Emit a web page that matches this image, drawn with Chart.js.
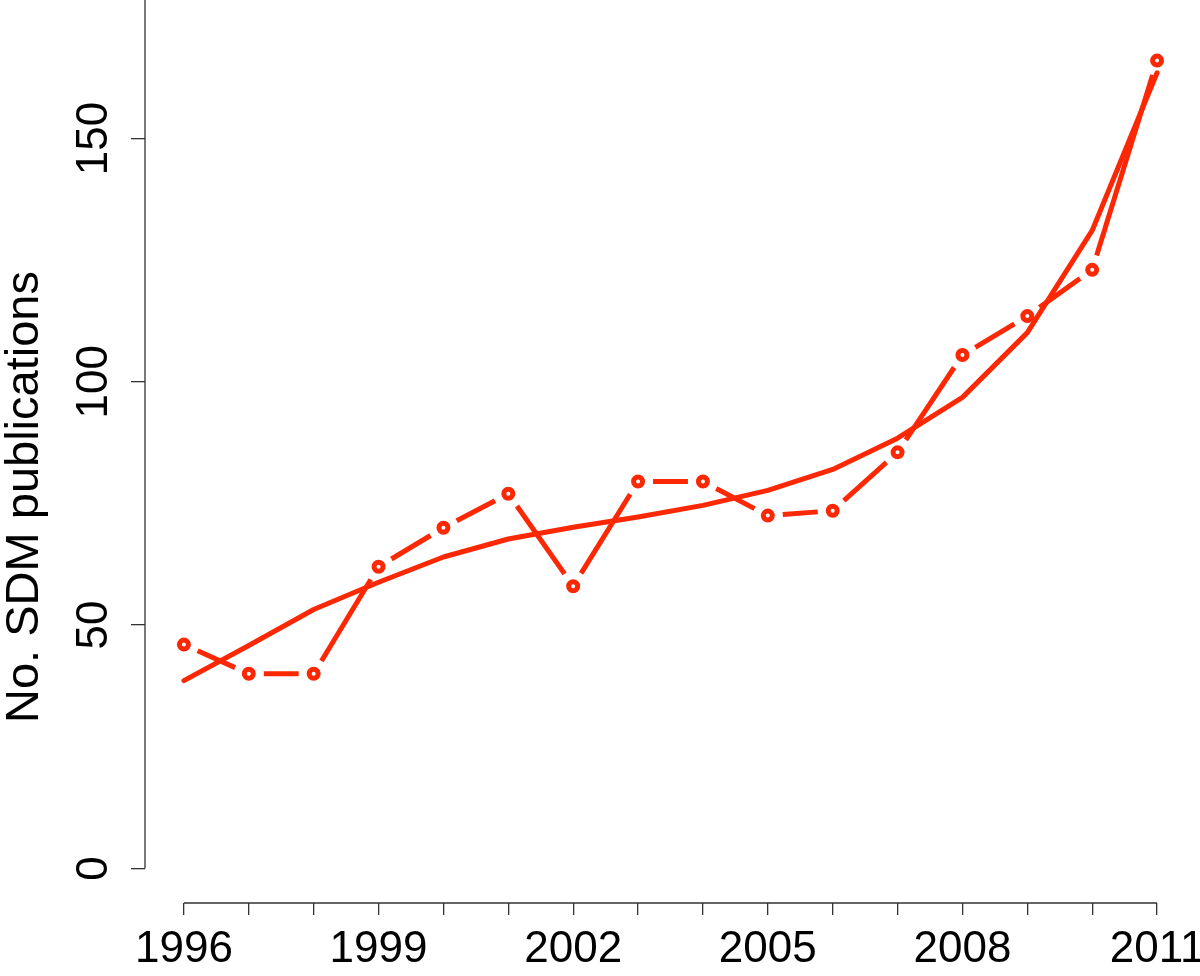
<!DOCTYPE html>
<html>
<head>
<meta charset="utf-8">
<script src="https://cdn.jsdelivr.net/npm/chart.js@4/dist/chart.umd.min.js"></script>
<style>
  html, body { margin: 0; padding: 0; background: #fff; }
  #wrap { width: 1200px; height: 976px; }
</style>
</head>
<body>
<div id="wrap"><canvas id="pubChart" width="1200" height="976"></canvas></div>
<script>
// data
const years = [1996, 1997, 1998, 1999, 2000, 2001, 2002, 2003, 2004, 2005, 2006, 2007, 2008, 2009, 2010, 2011];
const publications = [46, 40, 40, 62, 70, 77, 58, 79.5, 79.5, 72.5, 73.5, 85.5, 105.5, 113.5, 123, 166];
const fitted = [38.6, 45.8, 53.2, 58.8, 64.0, 67.7, 70.1, 72.2, 74.6, 77.7, 82.0, 88.4, 96.8, 110.1, 131.1, 163.5];
const yTicks = [0, 50, 100, 150];
const xLabelYears = [1996, 1999, 2002, 2005, 2008, 2011];
const yTitle = "No. SDM publications";

const red = "rgb(252, 40, 4)";
const font = "44px 'Liberation Sans', Arial, sans-serif";
const titleFont = "47px 'Liberation Sans', Arial, sans-serif";
const gap = 15; // space left around each point, like R type="b"

// axis lines + text in R style
const rAxes = {
  id: "rAxes",
  afterDraw(chart) {
    const { ctx, scales: { x, y } } = chart;
    const axisY = 903;
    const axisX = 145;
    ctx.save();
    ctx.strokeStyle = "#333";
    ctx.lineWidth = 1.3;
    ctx.beginPath();
    ctx.moveTo(x.getPixelForValue(years[0]), axisY);
    ctx.lineTo(x.getPixelForValue(years[years.length - 1]), axisY);
    ctx.moveTo(axisX, y.getPixelForValue(0));
    ctx.lineTo(axisX, 0);
    ctx.stroke();

    ctx.fillStyle = "#000";
    ctx.font = font;
    ctx.textAlign = "center";
    ctx.textBaseline = "alphabetic";
    xLabelYears.forEach(yr => {
      ctx.fillText(String(yr), x.getPixelForValue(yr), 962);
    });

    yTicks.forEach(v => {
      ctx.save();
      ctx.translate(107, y.getPixelForValue(v));
      ctx.rotate(-Math.PI / 2);
      ctx.fillText(String(v), 0, 0);
      ctx.restore();
    });

    ctx.save();
    ctx.font = titleFont;
    ctx.translate(38, 497);
    ctx.rotate(-Math.PI / 2);
    ctx.fillText(yTitle, 0, 0);
    ctx.restore();
    ctx.restore();
  }
};

function segLen(c) {
  return Math.hypot(c.p1.x - c.p0.x, c.p1.y - c.p0.y);
}

new Chart(document.getElementById("pubChart"), {
  type: "line",
  data: {
    datasets: [
      {
        label: "fitted",
        data: years.map((yr, i) => ({ x: yr, y: fitted[i] })),
        borderColor: red,
        borderWidth: 5,
        borderCapStyle: "round",
        borderJoinStyle: "round",
        pointRadius: 0,
        tension: 0,
        order: 2
      },
      {
        label: "publications",
        data: years.map((yr, i) => ({ x: yr, y: publications[i] })),
        borderColor: red,
        borderWidth: 5,
        borderCapStyle: "butt",
        pointRadius: 4.5,
        pointBorderWidth: 5,
        pointBorderColor: red,
        pointBackgroundColor: "#fff",
        tension: 0,
        order: 1,
        segment: {
          borderDash: c => {
            const L = segLen(c);
            return L > 2 * gap ? [L - 2 * gap, 2 * gap] : [0, L + 1];
          },
          borderDashOffset: c => {
            const L = segLen(c);
            return L > 2 * gap ? L - gap : 0;
          }
        }
      }
    ]
  },
  options: {
    responsive: false,
    animation: false,
    layout: { autoPadding: false, padding: { left: 145, right: 4, top: 0, bottom: 73 } },
    plugins: { legend: { display: false }, tooltip: { enabled: false } },
    scales: {
      x: {
        type: "linear",
        min: 1995.4,
        max: 2011.6,
        afterBuildTicks: s => { s.ticks = years.map(v => ({ value: v })); },
        afterFit: s => { s.height = 0; },
        ticks: { display: false },
        border: { display: false },
        grid: { drawOnChartArea: false, drawTicks: true, tickLength: 12, color: "#333", lineWidth: 1.3 }
      },
      y: {
        type: "linear",
        min: -7.1,
        max: 178.45,
        afterBuildTicks: s => { s.ticks = yTicks.map(v => ({ value: v })); },
        afterFit: s => { s.width = 0; },
        ticks: { display: false },
        border: { display: false },
        grid: { drawOnChartArea: false, drawTicks: true, tickLength: 14, color: "#333", lineWidth: 1.3 }
      }
    }
  },
  plugins: [rAxes]
});
</script>
</body>
</html>
